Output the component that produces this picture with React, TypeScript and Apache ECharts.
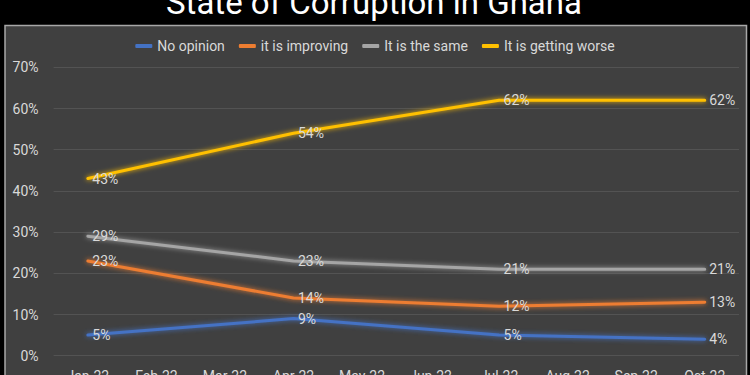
import React, { useEffect, useRef } from "react";
import * as echarts from "echarts";

const categories = ["Jan-22", "Feb-22", "Mar-22", "Apr-22", "May-22", "Jun-22", "Jul-22", "Aug-22", "Sep-22", "Oct-22"];
const noOpinion = [5, null, null, 9, null, null, 5, null, null, 4];
const improving = [23, null, null, 14, null, null, 12, null, null, 13];
const same = [29, null, null, 23, null, null, 21, null, null, 21];
const worse = [43, null, null, 54, null, null, 62, null, null, 62];
const yTicks = [0, 10, 20, 30, 40, 50, 60, 70];
const seriesNames = ["No opinion", "it is improving", "It is the same", "It is getting worse"];
const colors = ["#4472C4", "#ED7D31", "#A5A5A5", "#FFC000"];

const FONT = "Roboto, 'Open Sans', sans-serif";

export default function App() {
  const ref = useRef<HTMLDivElement>(null);
  useEffect(() => {
    document.body.style.margin = "0";
    document.body.style.background = "#000";
    const chart = echarts.init(ref.current!, undefined, { renderer: "svg" });
    const mk = (name: string, data: (number | null)[], color: string) => ({
      name,
      type: "line",
      data,
      connectNulls: true,
      symbol: "circle",
      symbolSize: 1,
      showSymbol: true,
      itemStyle: { color },
      lineStyle: {
        color,
        width: 3,
        cap: "round",
        join: "round",
        shadowColor: color,
        shadowBlur: 5,
      },
      label: {
        show: true,
        position: "right",
        distance: 4,
        color: "#d9d9d9",
        fontSize: 14,
        fontFamily: FONT,
        formatter: (p: any) => p.value + "%",
      },
      emphasis: { disabled: true },
    });
    chart.setOption({
      animation: false,
      backgroundColor: "#000",
      textStyle: { fontFamily: FONT },
      graphic: [
        {
          type: "rect",
          shape: { x: 5, y: 25.5, width: 741.5, height: 360 },
          style: { fill: "#404040", stroke: "#a8a8a8", lineWidth: 1.5 },
          z: -10,
        },
        {
          type: "text",
          style: {
            x: 374,
            y: 19,
            text: "State of Corruption in Ghana",
            fill: "#ffffff",
            fontSize: 33,
            fontFamily: FONT,
            textAlign: "center",
            textVerticalAlign: "bottom",
          },
        },
      ],
      legend: {
        top: 34,
        left: "center",
        icon: "roundRect",
        itemWidth: 17,
        itemHeight: 4,
        itemGap: 14,
        textStyle: { color: "#d9d9d9", fontSize: 14, fontFamily: FONT },
        data: seriesNames,
      },
      grid: { left: 53.6, right: 11, top: 67.3, bottom: 19.3, outerBoundsMode: "none", containLabel: false },
      xAxis: {
        type: "category",
        data: categories,
        boundaryGap: true,
        axisLine: { show: false },
        axisTick: { show: false },
        axisLabel: { color: "#d9d9d9", fontSize: 14, fontFamily: FONT, margin: 13 },
      },
      yAxis: {
        type: "value",
        min: yTicks[0],
        max: yTicks[yTicks.length - 1],
        interval: 10,
        axisLine: { show: false },
        axisTick: { show: false },
        axisLabel: { color: "#d9d9d9", fontSize: 14, fontFamily: FONT, margin: 15, formatter: "{value}%" },
        splitLine: { lineStyle: { color: "#535353", width: 1 } },
      },
      series: [
        mk(seriesNames[0], noOpinion, colors[0]),
        mk(seriesNames[1], improving, colors[1]),
        mk(seriesNames[2], same, colors[2]),
        mk(seriesNames[3], worse, colors[3]),
      ],
    });
    return () => chart.dispose();
  }, []);
  return <div ref={ref} style={{ width: 750, height: 375 }} />;
}
